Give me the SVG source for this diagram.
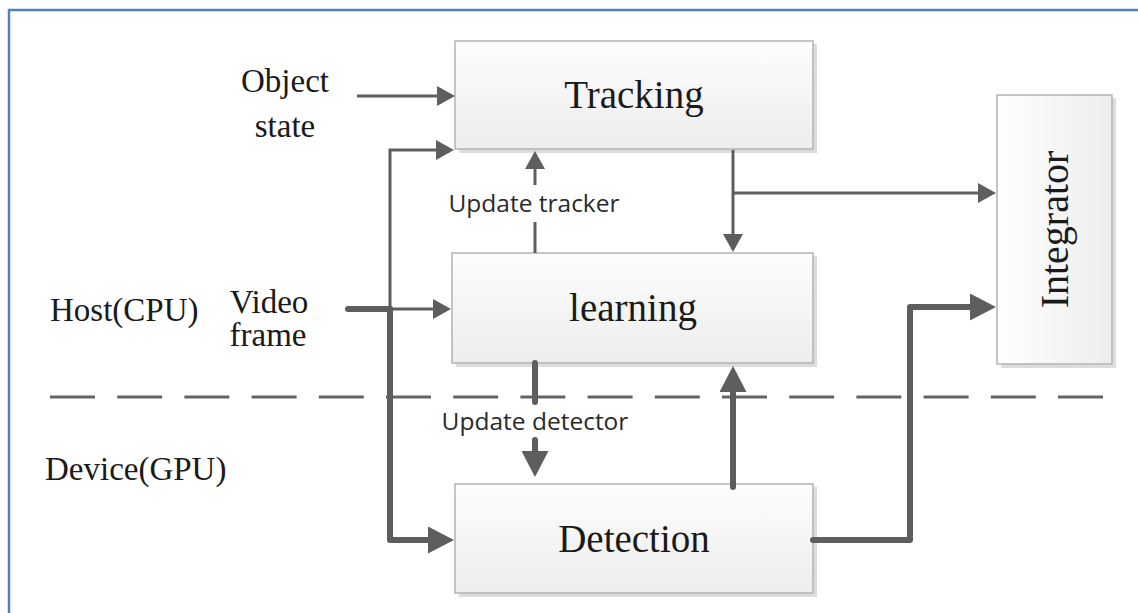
<svg xmlns="http://www.w3.org/2000/svg" width="1138" height="613" viewBox="0 0 1138 613">
  <style>
    .box { stroke: #b3b3b3; stroke-width: 1.5; }
    .shadow { fill: #dcdcdc; }
    .title { font-family: "Liberation Serif", "Times New Roman", serif; font-size: 39px; fill: #1a1a1a; text-anchor: middle; }
    .label { font-family: "Liberation Serif", "Times New Roman", serif; font-size: 33px; fill: #1a1a1a; }
    .note { font-family: "Open Sans", "Noto Sans", sans-serif; font-size: 24.5px; fill: #2a2a2a; text-anchor: middle; }
    .thin { fill: none; stroke: #5e5e5e; stroke-width: 3; }
    .thick { fill: none; stroke: #5e5e5e; stroke-width: 6; stroke-linecap: round; stroke-linejoin: round; }
    .split { fill: none; stroke: #646464; stroke-width: 3; stroke-dasharray: 45 22.2; }
  </style>
  <defs>
    <linearGradient id="fillV" x1="0" y1="0" x2="0" y2="1">
      <stop offset="0" stop-color="#fdfdfd"/>
      <stop offset="1" stop-color="#ededed"/>
    </linearGradient>
    <linearGradient id="fillH" x1="0" y1="0" x2="1" y2="0">
      <stop offset="0" stop-color="#ffffff"/>
      <stop offset="1" stop-color="#ededed"/>
    </linearGradient>
    <marker id="arrowThin" viewBox="0 -10 18 20" refX="1" refY="0" markerWidth="18" markerHeight="20" markerUnits="userSpaceOnUse" orient="auto">
      <path d="M0,-10 L18,0 L0,10 z" fill="#5e5e5e"/>
    </marker>
    <marker id="arrowThick" viewBox="0 -13.5 26 27" refX="1" refY="0" markerWidth="26" markerHeight="27" markerUnits="userSpaceOnUse" orient="auto">
      <path d="M0,-13.5 L26,0 L0,13.5 z" fill="#5e5e5e"/>
    </marker>
  </defs>

  <rect width="1138" height="613" fill="#ffffff"/>
  <!-- outer frame -->
  <rect x="9" y="10" width="1140" height="620" fill="none" stroke="#4f81bd" stroke-width="2.5"/>

  <!-- host / device boundary -->
  <line class="split" x1="50" y1="397" x2="1103" y2="397"/>

  <!-- side labels -->
  <g id="label-object-state" class="label" text-anchor="middle">
    <text x="285" y="92">Object</text>
    <text x="285" y="137">state</text>
  </g>
  <g id="label-video-frame" class="label" text-anchor="middle">
    <text x="269" y="313">Video</text>
    <text x="268" y="346">frame</text>
  </g>
  <text id="label-host" class="label" x="50" y="321">Host(CPU)</text>
  <text id="label-device" class="label" x="45" y="480">Device(GPU)</text>

  <!-- nodes -->
  <g id="tracking">
    <rect class="shadow" x="459" y="44" width="358" height="109"/>
    <rect class="box" x="455" y="41" width="358" height="108" fill="url(#fillV)"/>
    <text class="title" x="634" y="108">Tracking</text>
  </g>
  <g id="learning">
    <rect class="shadow" x="456" y="256" width="361" height="111"/>
    <rect class="box" x="452" y="253" width="361" height="110" fill="url(#fillV)"/>
    <text class="title" x="633" y="321">learning</text>
  </g>
  <g id="detection">
    <rect class="shadow" x="459" y="487" width="358" height="110"/>
    <rect class="box" x="455" y="484" width="358" height="109" fill="url(#fillV)"/>
    <text class="title" x="634" y="552">Detection</text>
  </g>
  <g id="integrator">
    <rect class="shadow" x="1001" y="98" width="115" height="270"/>
    <rect class="box" x="997" y="95" width="115" height="269" fill="url(#fillH)"/>
    <text class="title" transform="translate(1068 229.5) rotate(-90)" x="0" y="0" style="font-size:40px">Integrator</text>
  </g>

  <!-- connectors -->
  <g id="connectors">
    <path class="thin" d="M357,96 H438" marker-end="url(#arrowThin)"/>
    <path class="thin" d="M390,309 V150 H437" marker-end="url(#arrowThin)"/>
    <path class="thin" d="M390,309 H434" marker-end="url(#arrowThin)"/>
    <path class="thick" d="M348,309 H390"/>
    <path class="thick" d="M390,309 V540 H429" marker-end="url(#arrowThick)"/>

    <path class="thin" d="M535,253 V222"/>
    <path class="thin" d="M535,185 V168" marker-end="url(#arrowThin)"/>

    <path class="thin" d="M733,150 V235" marker-end="url(#arrowThin)"/>
    <path class="thin" d="M733,193 H979" marker-end="url(#arrowThin)"/>

    <path class="thick" d="M535,363 V402"/>
    <path class="thick" d="M535,440 V452" marker-end="url(#arrowThick)"/>

    <path class="thick" d="M733,487 V391" marker-end="url(#arrowThick)"/>
    <path class="thick" d="M813,540 H910 V307 H971" marker-end="url(#arrowThick)"/>
  </g>

  <!-- connector labels -->
  <text id="label-update-tracker" class="note" x="534" y="212">Update tracker</text>
  <text id="label-update-detector" class="note" x="535" y="430">Update detector</text>
</svg>
